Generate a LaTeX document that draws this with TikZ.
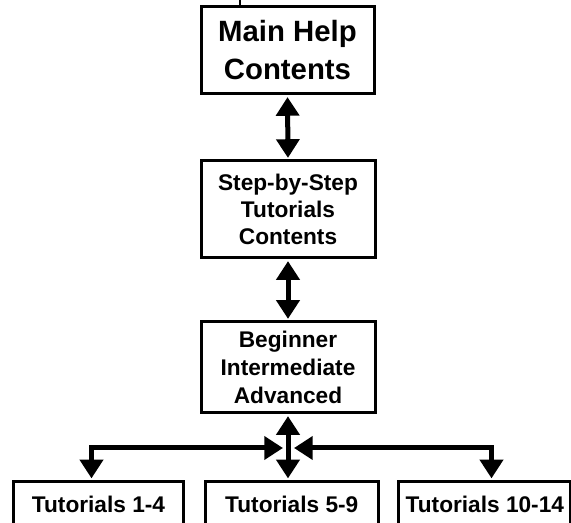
\documentclass[tikz,border=0pt]{standalone}
\usepackage{fontspec}
\setmainfont{Liberation Sans}
\usetikzlibrary{arrows.meta}
\begin{document}
\begin{tikzpicture}[x=0.75pt,y=-0.75pt,
  box/.style={draw=black,line width=2.25pt,inner sep=0pt,align=center,font=\bfseries},
  bigtext/.style={font=\bfseries\fontsize{22pt}{28.5pt}\selectfont},
  midtext/.style={font=\bfseries\fontsize{17pt}{20pt}\selectfont},
  lowtext/.style={font=\bfseries\fontsize{17pt}{21pt}\selectfont},
  dbl/.style={line width=3.75pt,{Triangle[length=14pt,width=17pt]}-{Triangle[length=14pt,width=17pt]}},
  thin/.style={line width=1.2pt}]
\clip (0,0) rectangle (571,523);
\fill[white] (0,0) rectangle (571,523);
\node[box,bigtext,minimum width=129.75pt,minimum height=65.6pt] (main) at (287.5,50.25) {Main Help\\Contents};
\node[box,midtext,minimum width=130.5pt,minimum height=72.75pt] (step) at (288,209.5) {Step-by-Step\\Tutorials\\Contents};
\node[box,lowtext,minimum width=130.5pt,minimum height=68.25pt] (level) at (288,367.5) {Beginner\\Intermediate\\Advanced};
\node[box,midtext,minimum width=127.5pt,minimum height=34.5pt] (t1) at (98.5,504.5) {Tutorials 1-4};
\node[box,midtext,minimum width=129.4pt,minimum height=34.5pt] (t2) at (291.75,504.5) {Tutorials 5-9};
\node[box,midtext,minimum width=129.2pt,minimum height=34.5pt] (t3) at (484.85,504.5) {Tutorials 10-14};
\coordinate (topin) at (240,0);
\coordinate (hubL) at (283,448);
\coordinate (hubR) at (294,448);
\coordinate (lcorner) at (91.5,448);
\coordinate (rcorner) at (491.5,448);
\draw[thin] (topin) -- (topin |- main.north);
\draw[dbl,shorten <=1.2pt,shorten >=1.2pt] (main.south) -- (step.north);
\draw[dbl,shorten <=1.2pt,shorten >=1.2pt] (step.south) -- (level.north);
\draw[dbl,shorten <=1.2pt,shorten >=1.2pt] (level.south) -- (level.south |- t2.north);
\draw[dbl,shorten >=1.2pt] (hubL) -- (lcorner) -- (lcorner |- t1.north);
\draw[dbl,shorten >=1.2pt] (hubR) -- (rcorner) -- (rcorner |- t3.north);
\end{tikzpicture}
\end{document}
